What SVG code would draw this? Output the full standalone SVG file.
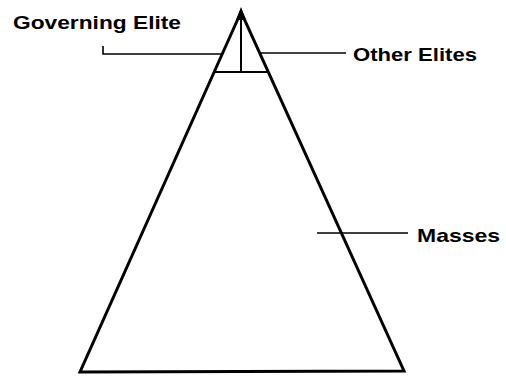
<svg xmlns="http://www.w3.org/2000/svg" width="506" height="376" viewBox="0 0 506 376">
<style>
.edge{fill:none;stroke:#000;stroke-width:3;stroke-linejoin:miter}
.inner{fill:none;stroke:#000;stroke-width:2}
.lead{fill:none;stroke:#000;stroke-width:1.6}
.lbl{font-family:"Liberation Sans",Arial,sans-serif;font-size:19px;font-weight:bold;fill:#000}
</style>
<rect width="506" height="376" fill="#fff"/>
<g id="pyramid">
<polygon class="edge" points="241,12 80,372 404,371"/>
<polygon points="241,7 236,20 246,20" fill="#000"/>
</g>
<g id="governing-elite">
<line class="inner" x1="241" y1="12" x2="241" y2="72"/>
<text class="lbl" x="13" y="29" textLength="168" lengthAdjust="spacingAndGlyphs">Governing Elite</text>
</g>
<g id="other-elites">
<line class="inner" x1="214" y1="72" x2="268" y2="72"/>
<text class="lbl" x="353" y="61" textLength="124" lengthAdjust="spacingAndGlyphs">Other Elites</text>
</g>
<g id="masses">
<text class="lbl" x="417" y="242" textLength="83" lengthAdjust="spacingAndGlyphs">Masses</text>
</g>
<g id="connectors">
<polyline class="lead" points="103,46 103,54 222,54"/>
<line class="lead" x1="260" y1="53" x2="346" y2="53"/>
<line class="lead" x1="317" y1="233" x2="408" y2="233"/>
</g>
</svg>
